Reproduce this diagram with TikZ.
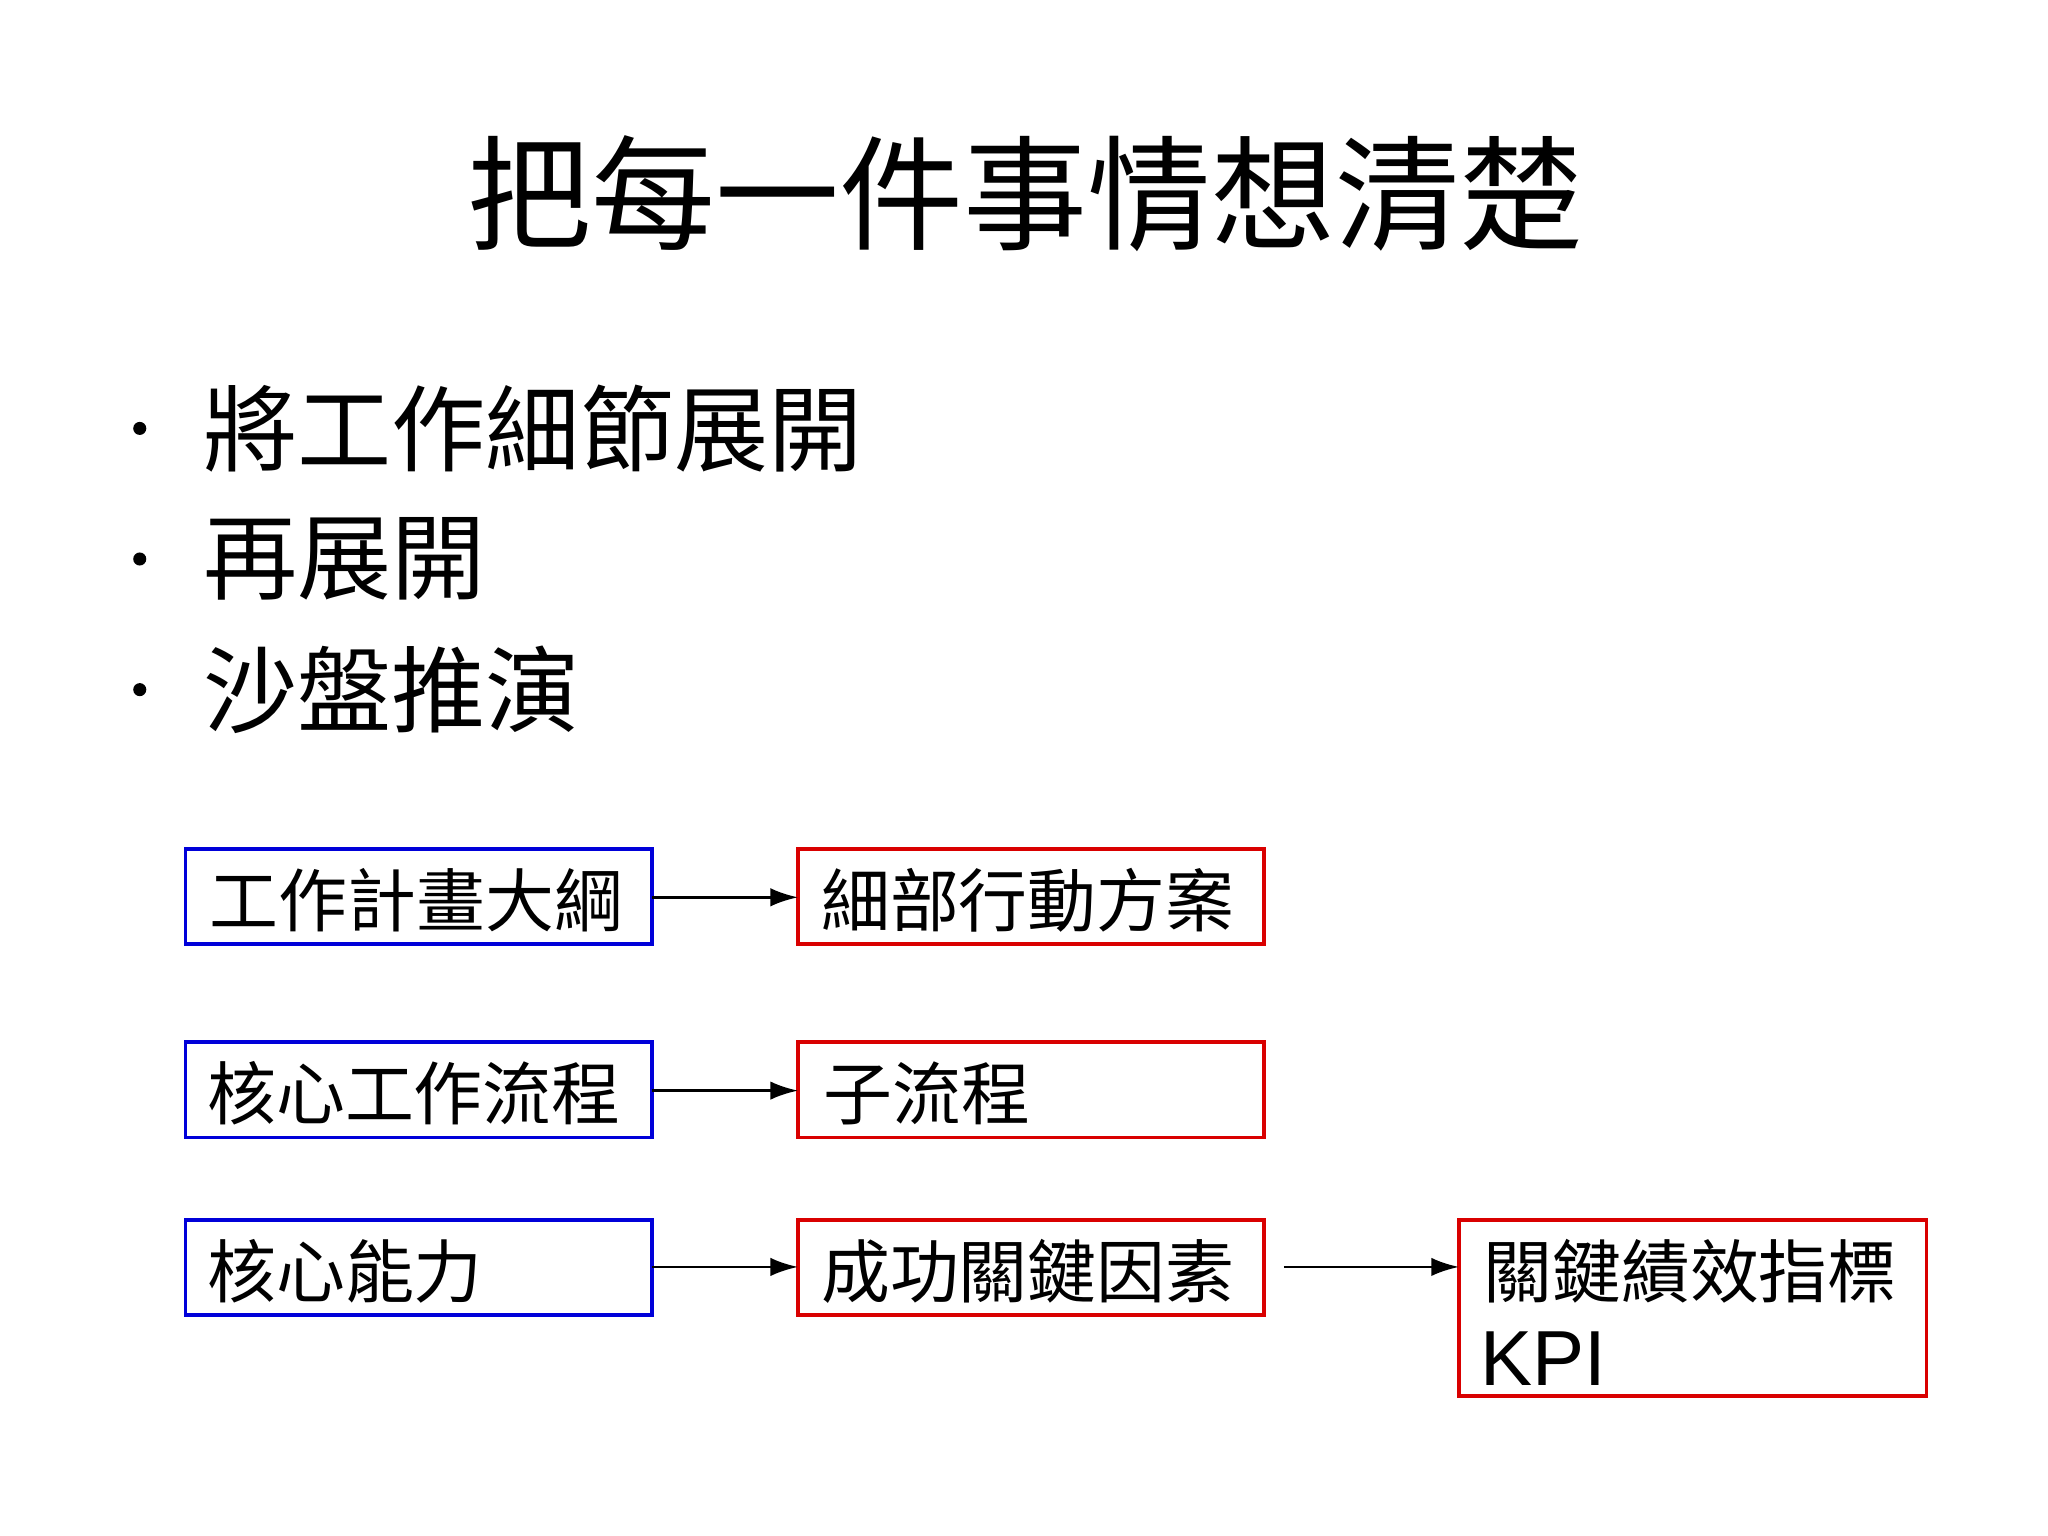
\documentclass[tikz,border=0pt]{standalone}
\usepackage{fontspec}
\setmainfont{Liberation Sans}
\newfontfamily\cjk{Noto Sans CJK TC}
\usetikzlibrary{arrows.meta}
\begin{document}
\begin{tikzpicture}[x=0.01cm,y=-0.01cm,
  bbox/.style={draw=blue!85!black,line width=0.8pt},
  rbox/.style={draw=red!85!black,line width=0.8pt},
  btxt/.style={anchor=west,inner sep=0pt,font=\cjk\fontsize{15}{18}\selectfont},
  blt/.style={anchor=west,inner sep=0pt,font=\cjk\fontsize{20.5}{24}\selectfont},
  arr/.style={-{Latex[length=6pt,width=4pt]},line width=0.6pt}]
\useasboundingbox (0,0) rectangle (1568,1176);
\node[font=\cjk\fontsize{27}{32}\selectfont] (title) at (785,148) {把每一件事情想清楚};
\foreach \y/\t [count=\i] in {328/將工作細節展開,428/再展開,528/沙盤推演}{
  \fill (107,\y) circle (5);
  \node[blt] (b\i) at (155,\y) {\t};
}
\draw[bbox] (142,650) rectangle (499,723) coordinate (a1c);
\draw[bbox] (142,798) rectangle (499,871);
\draw[bbox] (142,934) rectangle (499,1007);
\draw[rbox] (611,650) rectangle (968,723);
\draw[rbox] (611,798) rectangle (968,871);
\draw[rbox] (611,934) rectangle (968,1007);
\draw[rbox] (1117,934) rectangle (1475,1069);
\coordinate (l1) at (499,687); \coordinate (r1) at (611,687);
\coordinate (l2) at (499,835); \coordinate (r2) at (611,835);
\coordinate (l3) at (499,970); \coordinate (r3) at (611,970);
\coordinate (l4) at (983,970); \coordinate (r4) at (1117,970);
\node[btxt] (t1) at (160,689) {工作計畫大綱};
\node[btxt] (t2) at (158,837) {核心工作流程};
\node[btxt] (t3) at (158,973) {核心能力};
\node[btxt] (u1) at (628,689) {細部行動方案};
\node[btxt] (u2) at (630,837) {子流程};
\node[btxt] (u3) at (628,973) {成功關鍵因素};
\node[btxt] (k1) at (1135,973) {關鍵績效指標};
\node[anchor=west,inner sep=0pt,font=\fontsize{17}{20}\selectfont] (k2) at (1133,1040) {KPI};
\foreach \i in {1,...,4}{\draw[arr] (l\i) -- (r\i);}
\end{tikzpicture}
\end{document}
